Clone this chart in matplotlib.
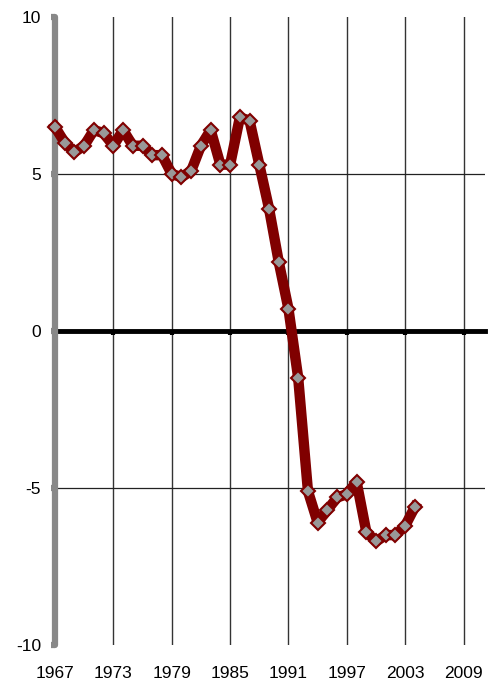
import numpy as np
import matplotlib.pyplot as plt
import matplotlib.transforms as mtransforms

plt.rcParams['font.family'] = ['Liberation Sans', 'DejaVu Sans']

# yearly values, 1967-2004
years = list(range(1967, 2005))
values = [6.5, 6.0, 5.7, 5.9, 6.4, 6.3, 5.9, 6.4, 5.9, 5.9,
          5.6, 5.6, 5.0, 4.9, 5.1, 5.9, 6.4, 5.3, 5.3, 6.8,
          6.7, 5.3, 3.9, 2.2, 0.7, -1.5, -5.1, -6.1, -5.7, -5.3,
          -5.2, -4.8, -6.4, -6.7, -6.5, -6.5, -6.2, -5.6]
x_ticks = [1967, 1973, 1979, 1985, 1991, 1997, 2003, 2009]
y_ticks = [-10, -5, 0, 5, 10]

fig = plt.figure(figsize=(4.88, 6.90), dpi=100)
ax = fig.add_axes([55 / 488, 45 / 690, 430 / 488, 628 / 690])

ax.set_xlim(1967, 2011.2)
ax.set_ylim(-10, 10)

# grid lines
for xt in x_ticks[1:]:
    ax.axvline(xt, color='#333333', lw=1, zorder=1)
for yt in [-5, 5]:
    ax.axhline(yt, color='#222222', lw=0.9, zorder=1)

# zero axis
ax.spines['bottom'].set_position(('data', 0))
ax.spines['bottom'].set_color('black')
ax.spines['bottom'].set_linewidth(3.5)
ax.spines['bottom'].set_zorder(2)
ax.spines['top'].set_visible(False)
ax.spines['right'].set_visible(False)
ax.spines['left'].set_color('#888888')
ax.spines['left'].set_linewidth(4.5)
ax.spines['left'].set_capstyle('round')

ax.set_xticks(x_ticks)
ax.tick_params(axis='x', direction='out', length=3, width=3, color='black',
               labelbottom=False)
ax.set_yticks(y_ticks)
ax.set_yticklabels([str(v) for v in y_ticks], fontsize=12.5)
ax.tick_params(axis='y', direction='out', length=3, width=4.5, color='#888888',
               pad=7)

# x labels under the plot area
trans = mtransforms.blended_transform_factory(ax.transData, ax.transAxes)
for xt in x_ticks:
    ax.text(xt, -0.045, str(xt), transform=trans, ha='center', va='center',
            fontsize=12.5)

ax.plot(years, values, color='#800000', lw=7.5, solid_joinstyle='round',
        marker='D', markersize=7, markerfacecolor='#999999',
        markeredgecolor='#800000', markeredgewidth=1.5, zorder=3,
        clip_on=False)

fig.savefig('out.png', dpi=100)
